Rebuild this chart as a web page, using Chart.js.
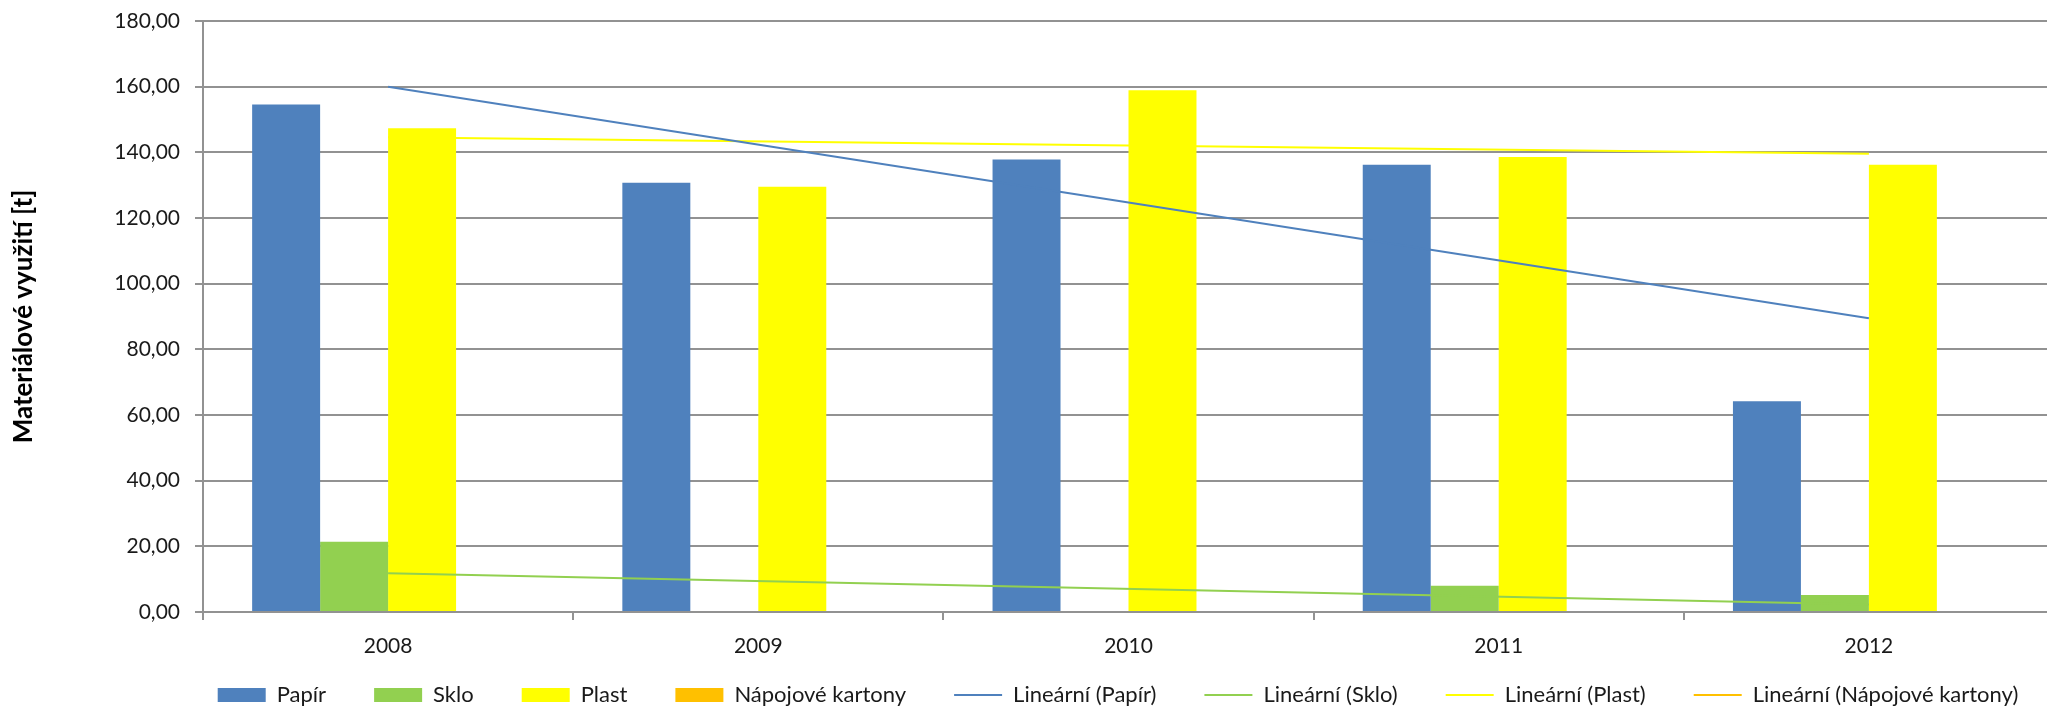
<!DOCTYPE html>
<html lang="cs">
<head>
<meta charset="utf-8">
<title>Materiálové využití</title>
<script src="https://cdn.jsdelivr.net/npm/chart.js@4.4.0/dist/chart.umd.min.js"></script>
<style>
  html, body { margin: 0; padding: 0; background: #fff; overflow: hidden; }
  .chartBox { position: relative; width: 2056px; height: 740px; }
</style>
</head>
<body>
<div class="chartBox"><canvas id="myChart"></canvas></div>
<script>
const years = ["2008", "2009", "2010", "2011", "2012"];
const papir = [154.6, 130.7, 137.8, 136.2, 64.2];
const sklo = [21.4, 0, 0, 8.0, 5.2];
const plast = [147.3, 129.5, 158.9, 138.6, 136.2];
const napojoveKartony = [0, 0, 0, 0, 0];

// linear trend lines at 2008 and 2012
const trendPapir = [160.0, null, null, null, 89.5];
const trendSklo = [11.8, null, null, null, 2.3];
const trendPlast = [144.6, null, null, null, 139.6];
const trendKartony = [null, null, null, null, null];

const yTicks = [0, 20, 40, 60, 80, 100, 120, 140, 160, 180];

const blue = "#4F81BD";
const green = "#92D050";
const yellow = "#FFFF00";
const orange = "#FFC000";
const gridColor = "#929292";

Chart.defaults.font.family = "Lato, 'Open Sans', sans-serif";
Chart.defaults.font.size = 21;
Chart.defaults.color = "#1a1a1a";

function barSet(label, data, color) {
  return {
    type: "bar",
    label: label,
    data: data,
    backgroundColor: color,
    borderWidth: 0,
    categoryPercentage: 0.7345,
    barPercentage: 1,
    order: 1,
  };
}

function trendSet(label, data, color) {
  return {
    type: "line",
    label: label,
    data: data,
    borderColor: color,
    backgroundColor: color,
    borderWidth: 2,
    pointRadius: 0,
    spanGaps: true,
    tension: 0,
    order: 0,
  };
}

function legendLabels(chart) {
  const items = Chart.defaults.plugins.legend.labels.generateLabels(chart);
  items.forEach((item) => {
    const ds = chart.data.datasets[item.datasetIndex];
    if (ds.type === "line") {
      item.pointStyle = "line";
      item.strokeStyle = ds.borderColor;
      item.lineWidth = 2;
    } else {
      item.pointStyle = "rect";
      item.lineWidth = 0;
    }
  });
  return items;
}

// pull the legend up under the axis labels and move it right, like Excel does
const legendPlacement = {
  id: "legendPlacement",
  afterLayout(chart) {
    const legend = chart.legend;
    const top = chart.chartArea.bottom + 24;
    legend.top = top;
    legend.bottom = top + legend.height;
    legend.left += 91;
    legend.right += 91;
  },
};

const ctx = document.getElementById("myChart").getContext("2d");
const myChart = new Chart(ctx, {
  data: {
    labels: years,
    datasets: [
      barSet("Papír", papir, blue),
      barSet("Sklo", sklo, green),
      barSet("Plast", plast, yellow),
      barSet("Nápojové kartony", napojoveKartony, orange),
      trendSet("Lineární (Papír)", trendPapir, blue),
      trendSet("Lineární (Sklo)", trendSklo, green),
      trendSet("Lineární (Plast)", trendPlast, yellow),
      trendSet("Lineární (Nápojové kartony)", trendKartony, orange),
    ],
  },
  plugins: [legendPlacement],
  options: {
    responsive: true,
    maintainAspectRatio: false,
    animation: false,
    layout: {
      padding: { top: 21, right: 2, left: 0, bottom: 0 },
    },
    plugins: {
      tooltip: { enabled: false },
      legend: {
        position: "bottom",
        labels: {
          usePointStyle: true,
          pointStyleWidth: 48,
          boxHeight: 14,
          padding: 48,
          font: { size: 22 },
          generateLabels: legendLabels,
          sort: (a, b) => a.datasetIndex - b.datasetIndex,
        },
      },
    },
    scales: {
      x: {
        grid: {
          display: true,
          drawOnChartArea: false,
          drawTicks: true,
          tickLength: 8,
          color: gridColor,
          lineWidth: 2,
        },
        border: { display: true, color: gridColor, width: 2 },
        ticks: { padding: 14, font: { size: 21 } },
        afterFit: (scale) => {
          scale.height = 48;
        },
      },
      y: {
        min: 0,
        max: 180,
        afterBuildTicks: (scale) => {
          scale.ticks = yTicks.map((v) => ({ value: v }));
        },
        grid: {
          color: gridColor,
          lineWidth: 2,
          tickLength: 8,
        },
        border: { display: true, color: gridColor, width: 2 },
        ticks: {
          padding: 15,
          font: { size: 21 },
          callback: (value) => value.toFixed(2).replace(".", ","),
        },
        title: {
          display: true,
          text: "Materiálové využití [t]",
          color: "#000",
          font: { size: 26, weight: "bold" },
          padding: { top: 8, bottom: 0 },
        },
        afterFit: (scale) => {
          scale.width = 203;
          scale.paddingTop = 0;
          scale.paddingBottom = 0;
        },
      },
    },
  },
});
</script>
</body>
</html>
